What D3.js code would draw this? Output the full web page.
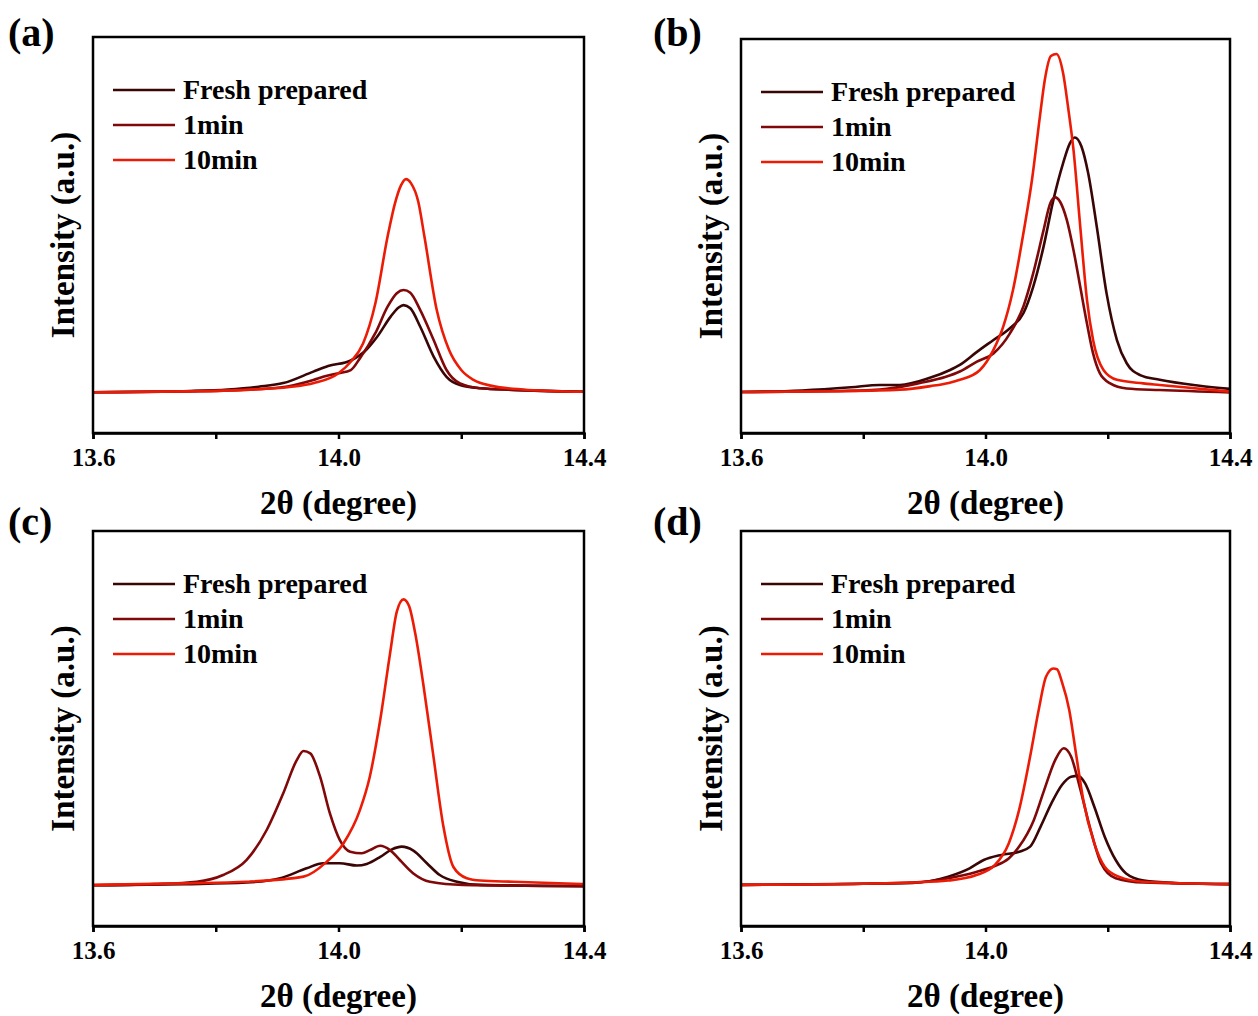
<!DOCTYPE html>
<html>
<head>
<meta charset="utf-8">
<script src="https://cdn.jsdelivr.net/npm/d3@7"></script>
<style>
  body { margin: 0; background: #fff; }
  text { font-family: "Times New Roman", "Liberation Serif", serif; font-weight: bold; fill: #000; }
</style>
</head>
<body>
<div id="chart"></div>
<script>
// tick values and names
var xTicks = [13.6, 13.8, 14.0, 14.2, 14.4];
var xTickLabels = ["13.6", "", "14.0", "", "14.4"];
var seriesNames = ["Fresh prepared", "1min", "10min"];
var seriesColors = ["#3a0505", "#800808", "#ec1b06"];
var panelLabels = ["(a)", "(b)", "(c)", "(d)"];

// (a)
var aFresh = [[13.60,10.3],[13.70,10.4],[13.76,10.6],[13.82,11.0],[13.87,11.7],[13.91,12.6],[13.959,15.5],[13.983,16.9],[14.020,18.3],[14.042,20.5],[14.063,24.3],[14.085,29.4],[14.098,31.7],[14.106,32.3],[14.117,31.5],[14.133,26.9],[14.155,19.3],[14.176,14.2],[14.198,12.1],[14.231,11.3],[14.285,10.9],[14.40,10.4]];
var a1min = [[13.60,10.3],[13.75,10.5],[13.84,10.9],[13.905,11.5],[13.959,13.4],[13.975,14.2],[14.00,15.1],[14.02,15.9],[14.035,18.9],[14.06,25.2],[14.08,31.9],[14.095,35.3],[14.106,36.1],[14.117,35.4],[14.133,31.1],[14.155,23.5],[14.176,15.9],[14.198,12.5],[14.231,11.3],[14.285,10.9],[14.40,10.4]];
var a10min = [[13.60,10.3],[13.75,10.5],[13.85,10.9],[13.92,11.6],[13.96,12.6],[14.00,15.1],[14.02,18.0],[14.04,22.6],[14.06,32.7],[14.08,49.6],[14.092,58.0],[14.102,62.6],[14.110,64.1],[14.118,63.1],[14.130,58.4],[14.14,49.6],[14.16,31.1],[14.18,21.0],[14.20,15.9],[14.22,13.4],[14.25,11.9],[14.30,11.0],[14.40,10.4]];

// (b)
var bFresh = [[13.60,10.4],[13.70,10.8],[13.78,11.6],[13.827,12.2],[13.86,12.2],[13.909,14.0],[13.942,16.0],[13.958,17.3],[13.986,20.6],[14.013,23.6],[14.040,26.6],[14.062,30.4],[14.078,37.1],[14.095,47.3],[14.111,59.1],[14.127,68.5],[14.138,73.5],[14.146,75.0],[14.157,72.7],[14.168,65.9],[14.182,52.4],[14.198,35.5],[14.215,23.6],[14.231,17.7],[14.253,14.7],[14.285,13.5],[14.35,12.0],[14.40,11.2]];
var b1min = [[13.60,10.4],[13.75,10.6],[13.827,11.0],[13.893,12.7],[13.934,14.2],[13.958,15.6],[13.986,18.1],[14.013,20.2],[14.040,25.3],[14.062,32.1],[14.078,40.5],[14.095,51.5],[14.106,58.3],[14.114,59.8],[14.122,58.7],[14.133,54.1],[14.144,46.4],[14.155,37.1],[14.166,27.8],[14.176,20.2],[14.187,15.2],[14.204,12.6],[14.231,11.3],[14.285,10.9],[14.40,10.3]];
var b10min = [[13.60,10.4],[13.75,10.6],[13.86,11.0],[13.91,11.9],[13.94,12.7],[13.958,13.5],[13.991,16.0],[14.013,21.1],[14.029,27.0],[14.045,36.3],[14.062,50.7],[14.076,64.2],[14.089,80.3],[14.097,89.6],[14.107,95.7],[14.116,96.2],[14.127,91.3],[14.135,82.8],[14.144,71.8],[14.155,52.4],[14.166,33.8],[14.176,23.6],[14.193,16.0],[14.215,13.5],[14.258,12.6],[14.285,12.2],[14.40,10.5]];

// (c)
var cFresh = [[13.60,10.3],[13.75,10.6],[13.850,11.0],[13.905,12.1],[13.948,14.6],[13.975,15.9],[14.002,15.9],[14.030,15.3],[14.046,15.7],[14.068,17.5],[14.087,19.4],[14.103,20.1],[14.122,19.1],[14.144,15.9],[14.165,12.9],[14.193,11.2],[14.231,10.4],[14.40,10.1]];
var c1min = [[13.60,10.3],[13.70,10.6],[13.769,11.2],[13.812,12.9],[13.850,16.7],[13.883,24.3],[13.910,33.6],[13.932,42.0],[13.943,44.3],[13.954,43.7],[13.970,37.8],[13.986,28.5],[14.002,21.8],[14.019,18.8],[14.038,18.4],[14.051,19.2],[14.068,20.3],[14.084,19.2],[14.100,16.7],[14.122,13.3],[14.149,11.2],[14.203,10.4],[14.40,10.1]];
var c10min = [[13.60,10.4],[13.75,10.8],[13.85,11.2],[13.943,12.5],[13.981,16.3],[14.008,20.9],[14.035,29.4],[14.051,37.8],[14.068,52.2],[14.084,69.0],[14.095,79.6],[14.106,82.7],[14.115,81.0],[14.125,74.1],[14.138,61.4],[14.154,43.7],[14.171,25.1],[14.187,15.0],[14.209,12.1],[14.231,11.5],[14.285,11.2],[14.40,10.6]];

// (d)
var dFresh = [[13.60,10.4],[13.80,10.7],[13.881,10.9],[13.939,12.5],[13.974,14.6],[13.997,16.7],[14.026,18.0],[14.055,18.8],[14.073,20.1],[14.090,25.1],[14.108,31.1],[14.125,35.7],[14.140,37.8],[14.151,38.0],[14.163,36.1],[14.178,30.2],[14.195,22.6],[14.213,16.7],[14.230,13.3],[14.259,11.5],[14.31,10.9],[14.40,10.6]];
var d1min = [[13.60,10.4],[13.80,10.7],[13.881,11.0],[13.939,12.1],[13.985,13.7],[14.015,15.2],[14.038,17.1],[14.055,20.1],[14.079,26.8],[14.096,34.4],[14.114,42.0],[14.128,45.0],[14.140,42.9],[14.154,35.3],[14.172,24.3],[14.189,15.9],[14.213,12.1],[14.259,11.0],[14.40,10.6]];
var d10min = [[13.60,10.4],[13.80,10.7],[13.88,11.0],[13.939,11.5],[13.985,12.9],[14.015,15.4],[14.038,20.9],[14.055,29.4],[14.073,42.9],[14.087,54.7],[14.099,63.1],[14.111,65.2],[14.117,65.0],[14.125,61.8],[14.137,54.7],[14.148,43.7],[14.160,31.9],[14.178,20.9],[14.195,15.0],[14.218,12.5],[14.259,11.2],[14.40,10.6]];

var allSeries = [
  [aFresh, a1min, a10min],
  [bFresh, b1min, b10min],
  [cFresh, c1min, c10min],
  [dFresh, d1min, d10min]
];

// plot boxes in page pixels
var boxes = [
  { left: 93,  top: 37,  right: 584,  bottom: 433 },
  { left: 741, top: 39,  right: 1230, bottom: 433 },
  { left: 93,  top: 531, right: 584,  bottom: 926 },
  { left: 741, top: 531, right: 1230, bottom: 926 }
];
var labelPos = [[8, 46], [653, 46], [8, 535], [653, 535]];

var svg = d3.select("#chart")
  .append("svg")
  .attr("width", 1258)
  .attr("height", 1016);

boxes.forEach(function(b, i) {
  var w = b.right - b.left, h = b.bottom - b.top;
  var g = svg.append("g").attr("transform", `translate(${b.left}, ${b.top})`);

  var xScale = d3.scaleLinear().domain([13.6, 14.4]).range([0, w]);
  var yScale = d3.scaleLinear().domain([0, 100]).range([h, 0]);

  var line = d3.line()
    .x(function(d) { return xScale(d[0]); })
    .y(function(d) { return yScale(d[1]); })
    .curve(d3.curveMonotoneX);

  allSeries[i].forEach(function(s, k) {
    g.append("path")
      .datum(s)
      .attr("fill", "none")
      .attr("stroke", seriesColors[k])
      .attr("stroke-width", 2.6)
      .attr("stroke-linejoin", "round")
      .attr("d", line);
  });

  // frame
  g.append("rect")
    .attr("width", w).attr("height", h)
    .attr("fill", "none").attr("stroke", "#000").attr("stroke-width", 2.5);

  var xAxis = g.append("g")
    .attr("transform", `translate(0, ${h})`)
    .call(d3.axisBottom(xScale).tickValues(xTicks).tickSize(6).tickPadding(9)
      .tickFormat(function(d, j) { return xTickLabels[j]; }));
  xAxis.select(".domain").attr("stroke-width", 2.5);
  xAxis.selectAll(".tick line").attr("stroke-width", 2.5);
  xAxis.selectAll(".tick text")
    .attr("font-size", 25)
    .attr("font-family", "'Times New Roman', 'Liberation Serif', serif")
    .attr("font-weight", "bold")
    .attr("fill", "#000");

  g.append("text")
    .attr("x", w / 2).attr("y", h + 81)
    .attr("text-anchor", "middle")
    .attr("font-size", 33)
    .text("2θ (degree)");

  g.append("text")
    .attr("transform", `translate(-19, ${h / 2}) rotate(-90)`)
    .attr("text-anchor", "middle")
    .attr("font-size", 33)
    .text("Intensity (a.u.)");

  // legend
  seriesNames.forEach(function(name, k) {
    var ly = 53 + k * 35;
    g.append("line")
      .attr("x1", 20).attr("x2", 82).attr("y1", ly).attr("y2", ly)
      .attr("stroke", seriesColors[k]).attr("stroke-width", 2.6);
    g.append("text")
      .attr("x", 90).attr("y", ly + 9)
      .attr("font-size", 28)
      .text(name);
  });

  svg.append("text")
    .attr("x", labelPos[i][0]).attr("y", labelPos[i][1])
    .attr("font-size", 40)
    .text(panelLabels[i]);
});
</script>
</body>
</html>
